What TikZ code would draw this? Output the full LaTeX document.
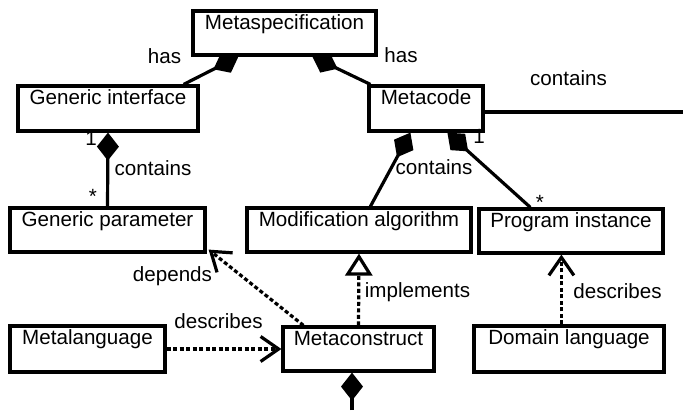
\documentclass[tikz,border=0pt]{standalone}
\usepackage{fontspec}
\setmainfont{Liberation Sans}
\usetikzlibrary{arrows.meta,calc}
\pgfdeclarelayer{wires}
\pgfsetlayers{wires,main}

% class box: name, x1, y1, x2, y2, title (title sits in the top compartment)
\newcommand\umlclass[6]{%
  \node[umlbox, minimum width={#4-#2}, minimum height={#5-#3}]
    (#1) at ({(#2+#4)/2},{(#3+#5)/2}) {};
  \node[boxtext] (#1-title) at ($(#1.north)+(0,20.5)$) {#6};
}

\begin{document}
\begin{tikzpicture}[x=1pt, y=-1pt,
  font=\fontsize{20.6}{24}\selectfont,
  umlbox/.style={draw, line width=3.2pt, line join=miter, fill=white, inner sep=0pt},
  boxtext/.style={anchor=base, inner sep=0pt},
  lbl/.style={anchor=base, inner sep=0pt},
  wire/.style={line width=3.2pt},
  compose/.style={wire, -{Diamond[length=28pt,width=22pt]}},
  depend/.style={wire, dash pattern=on 4pt off 2.5pt,
                 -{Straight Barb[length=18pt,width=25pt]}},
  realize/.style={wire, dash pattern=on 4pt off 2.5pt,
                  -{Triangle[length=22pt,width=27pt,fill=white]}}]

\useasboundingbox (0,0) rectangle (683,410);

% classes
\umlclass{ms}{193}{11}{376}{55}{Metaspecification}
\umlclass{gi}{18}{86}{198}{131}{Generic interface}
\umlclass{mc}{369}{86}{483}{131}{Metacode}
\umlclass{gp}{10}{208}{205}{252}{Generic parameter}
\umlclass{ma}{247}{208}{471}{252}{Modification algorithm}
\umlclass{pi}{479}{209}{663}{253}{Program instance}
\umlclass{ml}{10}{326}{165}{372}{Metalanguage}
\umlclass{mcs}{283}{327}{434}{371}{Metaconstruct}
\umlclass{dl}{474}{326}{664}{372}{Domain language}

% free ends
\coordinate (mcOut) at (683,112);
\coordinate (mcsBelow) at (352,410);
\coordinate (dlTop) at ($(dl.north west)+(89,0)$);

% connectors, kept behind the boxes
\begin{pgfonlayer}{wires}
  \draw[compose] ($(gi.north east)+(-16,0)$) -- ($(ms.south west)+(47,0)$);
  \draw[compose] ($(mc.north west)+(3,0)$) -- ($(ms.south west)+(121,0)$);
  \draw[compose] (gp.north) -- (gi.south);
  \draw[compose] ($(ma.north west)+(125,0)$) -- ($(mc.south west)+(43,0)$);
  \draw[compose] ($(pi.north west)+(53,0)$) -- ($(mc.south west)+(80,0)$);
  \draw[wire] (mc.east |- mcOut) -- (mcOut);
  \draw[compose] (mcsBelow) -- (mcsBelow |- mcs.south);
  \draw[depend] ($(mcs.north west)+(22,0)$) -- ($(gp.south east)+(2,-4)$);
  \draw[depend] (ml.east) -- (mcs.west);
  \draw[realize] (mcs.north) -- (ma.south);
  \draw[depend] (dlTop) -- (dlTop |- pi.south);
\end{pgfonlayer}

% association labels and multiplicities
\node[lbl] (hasL) at (164.5,63) {has};
\node[lbl] (hasR) at (401,62) {has};
\node[lbl] (contOut) at (568.5,85) {contains};
\node[lbl] (giOne) at (91,145) {1};
\node[lbl] (giCont) at (153,175) {contains};
\node[lbl] (gpMany) at (93,203) {*};
\node[lbl] (mcCont) at (434,174) {contains};
\node[lbl] (mcOne) at (479,143) {1};
\node[lbl] (piMany) at (540,209) {*};
\node[lbl] (dep) at (172.5,281) {depends};
\node[lbl] (descL) at (218.5,328) {describes};
\node[lbl] (impl) at (417.5,297) {implements};
\node[lbl] (descR) at (617.5,298) {describes};
\end{tikzpicture}
\end{document}
